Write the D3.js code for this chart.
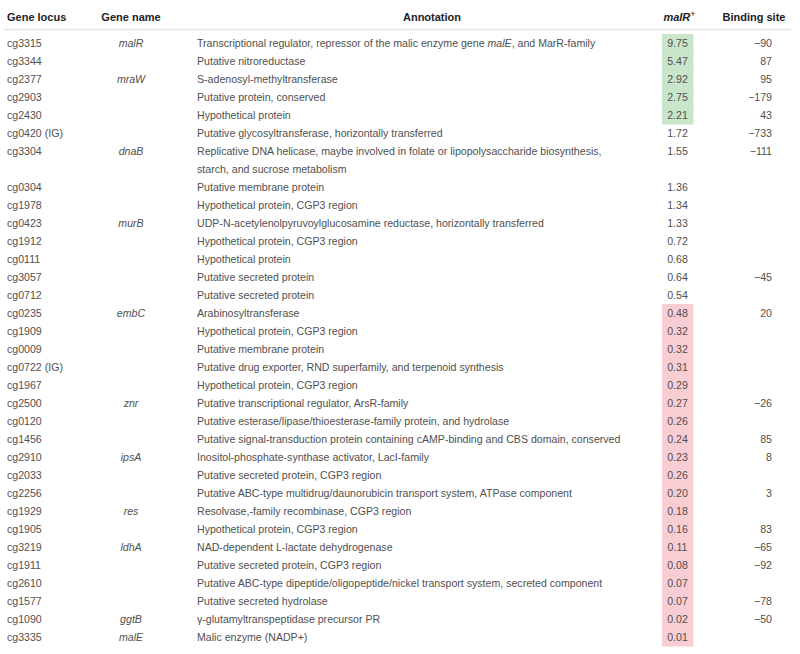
<!DOCTYPE html>
<html><head><meta charset="utf-8">
<script src="https://cdn.jsdelivr.net/npm/d3@7"></script>
<style>body{margin:0;background:#fff}svg{display:block}</style>
</head><body>
<script>
const headers = ["Gene locus","Gene name","Annotation","malR+","Binding site"];
const loci = ["cg3315","cg3344","cg2377","cg2903","cg2430","cg0420 (IG)","cg3304","cg0304","cg1978","cg0423","cg1912","cg0111","cg3057","cg0712","cg0235","cg1909","cg0009","cg0722 (IG)","cg1967","cg2500","cg0120","cg1456","cg2910","cg2033","cg2256","cg1929","cg1905","cg3219","cg1911","cg2610","cg1577","cg1090","cg3335"];
const geneNames = ["malR","","mraW","","","","dnaB","","","murB","","","","","embC","","","","","znr","","","ipsA","","","res","","ldhA","","","","ggtB","malE"];
const annotations = [
 "Transcriptional regulator, repressor of the malic enzyme gene *malE*, and MarR-family",
 "Putative nitroreductase",
 "S-adenosyl-methyltransferase",
 "Putative protein, conserved",
 "Hypothetical protein",
 "Putative glycosyltransferase, horizontally transferred",
 "Replicative DNA helicase, maybe involved in folate or lipopolysaccharide biosynthesis,|starch, and sucrose metabolism",
 "Putative membrane protein",
 "Hypothetical protein, CGP3 region",
 "UDP-N-acetylenolpyruvoylglucosamine reductase, horizontally transferred",
 "Hypothetical protein, CGP3 region",
 "Hypothetical protein",
 "Putative secreted protein",
 "Putative secreted protein",
 "Arabinosyltransferase",
 "Hypothetical protein, CGP3 region",
 "Putative membrane protein",
 "Putative drug exporter, RND superfamily, and terpenoid synthesis",
 "Hypothetical protein, CGP3 region",
 "Putative transcriptional regulator, ArsR-family",
 "Putative esterase/lipase/thioesterase-family protein, and hydrolase",
 "Putative signal-transduction protein containing cAMP-binding and CBS domain, conserved",
 "Inositol-phosphate-synthase activator, LacI-family",
 "Putative secreted protein, CGP3 region",
 "Putative ABC-type multidrug/daunorubicin transport system, ATPase component",
 "Resolvase,-family recombinase, CGP3 region",
 "Hypothetical protein, CGP3 region",
 "NAD-dependent L-lactate dehydrogenase",
 "Putative secreted protein, CGP3 region",
 "Putative ABC-type dipeptide/oligopeptide/nickel transport system, secreted component",
 "Putative secreted hydrolase",
 "γ-glutamyltranspeptidase precursor PR",
 "Malic enzyme (NADP+)"];
const malRValues = [9.75,5.47,2.92,2.75,2.21,1.72,1.55,1.36,1.34,1.33,0.72,0.68,0.64,0.54,0.48,0.32,0.32,0.31,0.29,0.27,0.26,0.24,0.23,0.26,0.20,0.18,0.16,0.11,0.08,0.07,0.07,0.02,0.01];
const bindingSites = [-90,87,95,-179,43,-733,-111,null,null,null,null,null,-45,null,20,null,null,null,null,-26,null,85,8,null,3,null,83,-65,-92,null,-78,-50,null];

const W = 800, H = 654;
const svg = d3.select("body").append("svg").attr("width", W).attr("height", H)
  .style("font-family", "'Liberation Sans', Arial, sans-serif");

// line index for each row (row 6 wraps to two lines)
let idx = 0;
const rows = loci.map((l, i) => {
  const lines = annotations[i].split("|");
  const r = {i, locus: l, name: geneNames[i], lines, value: malRValues[i], site: bindingSites[i], line: idx};
  idx += lines.length;
  return r;
});
const totalLines = idx;
const y = d3.scaleLinear().domain([0, totalLines - 1]).range([43, 637]);
const lineH = y(1) - y(0);

const col = {locus: 7, nameC: 131, annot: 197, valC: 677.5, valL: 662, valR: 693.5, siteR: 772, siteHC: 754};
const textColor = "#505050";
const fs = 10.6;

// header
const hy = 21;
const hdr = svg.append("g").attr("font-size", 11).attr("font-weight", "bold").attr("fill", "#222");
hdr.append("text").attr("x", col.locus).attr("y", hy).text(headers[0]);
hdr.append("text").attr("x", col.nameC).attr("y", hy).attr("text-anchor", "middle").text(headers[1]);
hdr.append("text").attr("x", 432).attr("y", hy).attr("text-anchor", "middle").text(headers[2]);
const mh = hdr.append("text").attr("x", col.valC + 2).attr("y", hy).attr("text-anchor", "middle");
mh.append("tspan").attr("font-style", "italic").text(headers[3].replace("+", ""));
mh.append("tspan").attr("font-size", 9).attr("dy", -4).attr("font-weight", "normal").text("+");
hdr.append("text").attr("x", col.siteHC).attr("y", hy).attr("text-anchor", "middle").text(headers[4]);
svg.append("line").attr("x1", 4).attr("x2", 791).attr("y1", 29.5).attr("y2", 29.5)
  .attr("stroke", "#e3e3e3").attr("stroke-width", 1.5);

// highlight cells
const color = v => v >= 2 ? "#c9e6cb" : (v < 0.5 ? "#f9cdd4" : null);
svg.append("g").selectAll("rect").data(rows.filter(r => color(r.value)))
  .join("rect")
  .attr("x", col.valL).attr("width", col.valR - col.valL)
  .attr("y", r => y(r.line) - lineH / 2).attr("height", lineH + 0.5)
  .attr("fill", r => color(r.value));

const body = svg.append("g").attr("font-size", fs).attr("fill", textColor);
const rg = body.selectAll("g.row").data(rows).join("g").attr("class", "row");
rg.append("text").attr("x", col.locus).attr("y", r => y(r.line) + 4).text(r => r.locus);
rg.append("text").attr("x", col.nameC).attr("y", r => y(r.line) + 4).attr("text-anchor", "middle")
  .attr("font-style", "italic").text(r => r.name);
rg.each(function(r) {
  const g = d3.select(this);
  r.lines.forEach((ln, k) => {
    const t = g.append("text").attr("x", col.annot).attr("y", y(r.line + k) + 4);
    ln.split("*").forEach((part, j) => {
      if (part) t.append("tspan").attr("font-style", j % 2 ? "italic" : null).text(part);
    });
  });
});
const fmt = d3.format(".2f");
rg.append("text").attr("x", col.valC).attr("y", r => y(r.line) + 4).attr("text-anchor", "middle")
  .text(r => fmt(r.value));
rg.append("text").attr("x", col.siteR).attr("y", r => y(r.line) + 4).attr("text-anchor", "end")
  .text(r => r.site == null ? "" : (r.site < 0 ? "\u2212" + Math.abs(r.site) : String(r.site)));
</script>
</body></html>
